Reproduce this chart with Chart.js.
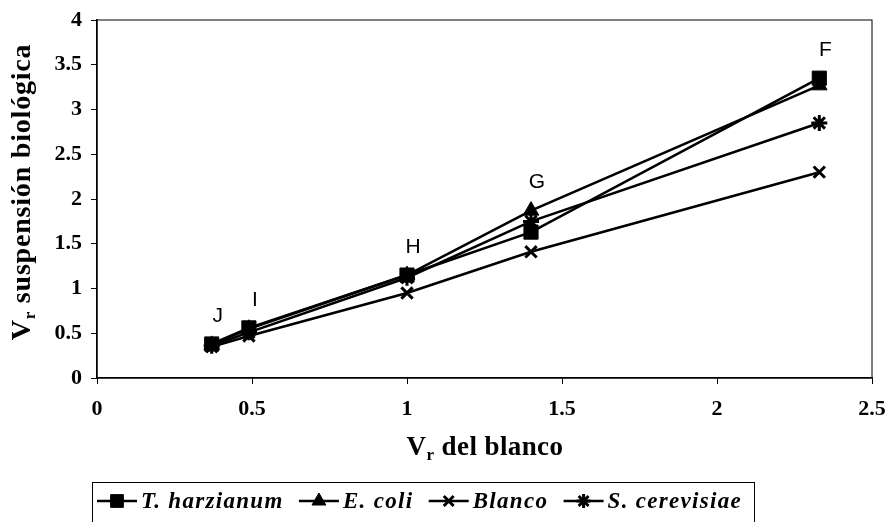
<!DOCTYPE html>
<html>
<head>
<meta charset="utf-8">
<script src="https://cdn.jsdelivr.net/npm/chart.js@4"></script>
<style>
  html, body { margin: 0; padding: 0; background: #fff; }
  #wrap { width: 888px; height: 522px; position: relative; }
</style>
</head>
<body>
<div id="wrap"><canvas id="c" width="888" height="522"></canvas></div>
<script>
// Vr of the blank (x) and Vr of each biological suspension (y)
const vrBlanco = [0.37, 0.49, 1.0, 1.40, 2.33];
const pointNames = ['J', 'I', 'H', 'G', 'F'];
const tHarzianum = [0.38, 0.56, 1.15, 1.63, 3.35];
const eColi = [0.37, 0.55, 1.15, 1.87, 3.27];
const blanco = [0.35, 0.47, 0.95, 1.41, 2.30];
const sCerevisiae = [0.36, 0.51, 1.12, 1.75, 2.85];
const xTicks = [0, 0.5, 1, 1.5, 2, 2.5];
const yTicks = [0, 0.5, 1, 1.5, 2, 2.5, 3, 3.5, 4];

const seriesNames = ['T. harzianum', 'E. coli', 'Blanco', 'S. cerevisiae'];
const seriesValues = [tHarzianum, eColi, blanco, sCerevisiae];
const markers = [
  { pointStyle: 'rect', radius: 10, borderWidth: 1 },
  { pointStyle: 'triangle', radius: 9, borderWidth: 1 },
  { pointStyle: 'crossRot', radius: 8, borderWidth: 3 },
  { pointStyle: 'star', radius: 8, borderWidth: 3 }
];

const SERIF = "'Liberation Serif', 'Times New Roman', serif";
const SANS = "'Liberation Sans', Arial, sans-serif";

const datasets = seriesNames.map((name, i) => ({
  label: name,
  data: vrBlanco.map((x, k) => ({ x: x, y: seriesValues[i][k] })),
  showLine: true,
  borderColor: '#000',
  backgroundColor: '#000',
  borderWidth: 2.6,
  pointStyle: markers[i].pointStyle,
  pointRadius: markers[i].radius,
  pointBorderWidth: markers[i].borderWidth,
  pointBorderColor: '#000',
  pointBackgroundColor: '#000',
  tension: 0
}));

// Plot frame, letters over each sample, axis titles with subscripts and the boxed legend
const decorations = {
  id: 'decorations',
  afterDatasetsDraw(chart) {
    const ctx = chart.ctx;
    const a = chart.chartArea;
    const xs = chart.scales.x, ys = chart.scales.y;
    ctx.save();
    ctx.strokeStyle = '#000';
    ctx.lineWidth = 1;
    ctx.strokeRect(a.left, a.top, a.right - a.left, a.bottom - a.top);

    // point letters
    ctx.fillStyle = '#000';
    ctx.font = '21px ' + SANS;
    ctx.textAlign = 'center';
    ctx.textBaseline = 'middle';
    pointNames.forEach((p, k) => {
      const top = Math.max(tHarzianum[k], eColi[k], blanco[k], sCerevisiae[k]);
      const px = xs.getPixelForValue(vrBlanco[k]) + 6;
      const py = ys.getPixelForValue(top) - 28;
      ctx.fillText(p, px, py);
    });

    // V with subscript r, followed by the rest of the title
    function subTitle(rest, cx, cy, size, spacing) {
      const big = 'bold ' + size + 'px ' + SERIF, small = 'bold ' + Math.round(size * 0.62) + 'px ' + SERIF;
      ctx.letterSpacing = spacing + 'px';
      ctx.font = big; const wV = ctx.measureText('V').width;
      ctx.font = small; const wr = ctx.measureText('r').width;
      ctx.font = big; const wRest = ctx.measureText(rest).width;
      const total = wV + wr + wRest;
      let x = cx - total / 2;
      ctx.textAlign = 'left';
      ctx.textBaseline = 'alphabetic';
      ctx.font = big; ctx.fillText('V', x, cy + 9); x += wV;
      ctx.font = small; ctx.fillText('r', x, cy + 14); x += wr;
      ctx.font = big; ctx.fillText(rest, x, cy + 9);
      ctx.letterSpacing = '0px';
    }
    subTitle(' del blanco', 485, 446, 27, 0.4);
    ctx.save();
    ctx.translate(21, 192);
    ctx.rotate(-Math.PI / 2);
    subTitle(' suspensión biológica', 0, 0, 28, 0.8);
    ctx.restore();

    // legend
    ctx.lineWidth = 1;
    ctx.strokeRect(92.5, 482.5, 662, 60);
    ctx.font = 'bold italic 23px ' + SERIF;
    ctx.letterSpacing = '1.3px';
    ctx.textAlign = 'left';
    ctx.textBaseline = 'middle';
    const ly = 501;
    const lineLen = 40, textGap = 4;
    const widths = seriesNames.map(n => ctx.measureText(n).width);
    const used = widths.reduce((s, w) => s + w + lineLen + textGap, 0);
    const gap = (742 - 97 - used) / (seriesNames.length - 1);
    let lx = 97;
    seriesNames.forEach((name, i) => {
      ctx.strokeStyle = '#000';
      ctx.fillStyle = '#000';
      ctx.lineWidth = 2.6;
      ctx.beginPath();
      ctx.moveTo(lx, ly);
      ctx.lineTo(lx + lineLen, ly);
      ctx.stroke();
      ctx.lineWidth = markers[i].borderWidth;
      Chart.helpers.drawPoint(ctx, {
        pointStyle: markers[i].pointStyle,
        radius: markers[i].radius - 1,
        rotation: 0,
        borderWidth: markers[i].borderWidth
      }, lx + lineLen / 2, ly);
      ctx.fillStyle = '#000';
      ctx.fillText(name, lx + lineLen + textGap, ly + 1);
      lx += lineLen + textGap + widths[i] + gap;
    });
    ctx.letterSpacing = '0px';
    ctx.restore();
  }
};

const tickFormat = v => String(v);

new Chart(document.getElementById('c'), {
  type: 'scatter',
  data: { datasets: datasets },
  options: {
    responsive: false,
    animation: false,
    layout: { padding: { top: 20, right: 16, left: 0, bottom: 0 } },
    plugins: { legend: { display: false }, tooltip: { enabled: false } },
    scales: {
      x: {
        type: 'linear',
        min: 0, max: 2.5,
        afterBuildTicks(scale) { scale.ticks = xTicks.map(v => ({ value: v })); },
        afterFit(scale) { scale.height = 144; scale.paddingLeft = 0; scale.paddingRight = 0; },
        ticks: {
          color: '#000',
          font: { family: SERIF, size: 22, weight: 'bold' },
          padding: 12,
          maxRotation: 0,
          callback: tickFormat
        },
        grid: { drawOnChartArea: false, drawTicks: true, tickLength: 6, color: '#000', lineWidth: 1 },
        border: { color: '#000', width: 1.5 }
      },
      y: {
        type: 'linear',
        min: 0, max: 4,
        afterBuildTicks(scale) { scale.ticks = yTicks.map(v => ({ value: v })); },
        afterFit(scale) { scale.width = 97; scale.paddingTop = 0; scale.paddingBottom = 0; },
        ticks: {
          color: '#000',
          font: { family: SERIF, size: 22, weight: 'bold' },
          padding: 9,
          callback: tickFormat
        },
        grid: { drawOnChartArea: false, drawTicks: true, tickLength: 6, color: '#000', lineWidth: 1 },
        border: { color: '#000', width: 1.5 }
      }
    }
  },
  plugins: [decorations]
});
</script>
</body>
</html>
